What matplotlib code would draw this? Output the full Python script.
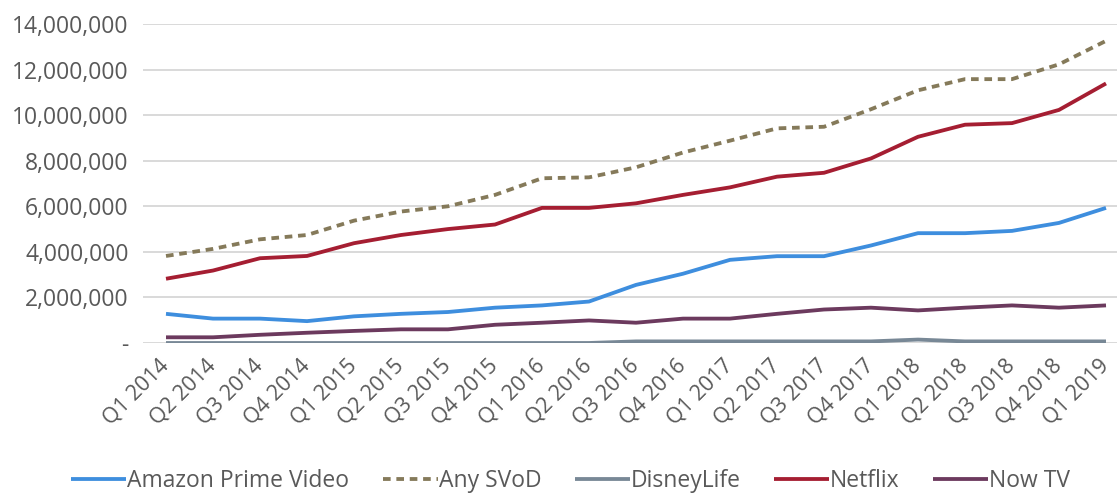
import matplotlib
matplotlib.use('Agg')
import matplotlib.pyplot as plt
from matplotlib.ticker import FuncFormatter

# --- DATA ---
quarters = ['Q1 2014', 'Q2 2014', 'Q3 2014', 'Q4 2014',
            'Q1 2015', 'Q2 2015', 'Q3 2015', 'Q4 2015',
            'Q1 2016', 'Q2 2016', 'Q3 2016', 'Q4 2016',
            'Q1 2017', 'Q2 2017', 'Q3 2017', 'Q4 2017',
            'Q1 2018', 'Q2 2018', 'Q3 2018', 'Q4 2018', 'Q1 2019']

amazon = [1.28, 1.07, 1.07, 0.96, 1.17, 1.28, 1.36, 1.55, 1.65, 1.82, 2.55,
          3.04, 3.65, 3.81, 3.81, 4.28, 4.82, 4.82, 4.92, 5.27, 5.93]
any_svod = [3.82, 4.13, 4.55, 4.74, 5.37, 5.77, 6.00, 6.50, 7.23, 7.27, 7.71,
            8.36, 8.88, 9.42, 9.49, 10.26, 11.09, 11.58, 11.58, 12.23, 13.26]
disneylife = [0.0, 0.0, 0.0, 0.0, 0.0, 0.0, 0.0, 0.0, 0.0, 0.0, 0.07,
              0.07, 0.07, 0.07, 0.07, 0.07, 0.15, 0.07, 0.07, 0.07, 0.07]
netflix = [2.82, 3.18, 3.72, 3.82, 4.38, 4.74, 5.00, 5.20, 5.93, 5.93, 6.13,
           6.50, 6.83, 7.30, 7.47, 8.10, 9.05, 9.58, 9.65, 10.23, 11.39]
now_tv = [0.25, 0.25, 0.36, 0.45, 0.53, 0.60, 0.60, 0.80, 0.89, 0.99, 0.89,
          1.07, 1.07, 1.28, 1.47, 1.55, 1.43, 1.55, 1.65, 1.55, 1.65]

series = [
    ('Amazon Prime Video', amazon, '#3E8EDE', '-'),
    ('Any SVoD', any_svod, '#857A5A', (0, (2.0, 1.5))),
    ('DisneyLife', disneylife, '#788896', '-'),
    ('Netflix', netflix, '#A51E32', '-'),
    ('Now TV', now_tv, '#6C3A5E', '-'),
]

TEXT = '#595959'
plt.rcParams['font.family'] = ['Open Sans', 'DejaVu Sans']

fig = plt.figure(figsize=(11.17, 4.93), dpi=100)
ax = fig.add_axes([142.5 / 1117, 1 - 343 / 493, 987 / 1117, 319 / 493])

x = list(range(len(quarters)))
for name, vals, color, ls in series:
    ax.plot(x, [v * 1e6 for v in vals], color=color, linestyle=ls,
            linewidth=2.75, label=name, solid_capstyle='butt', zorder=3)

ax.set_xlim(-0.5, len(quarters) - 0.5)
ax.set_ylim(0, 14e6)
ax.set_yticks(range(0, 14000001, 2000000))
ax.yaxis.set_major_formatter(FuncFormatter(lambda v, p: '-' if v == 0 else f'{int(v):,}'))
ax.set_xticks(x)
ax.set_xticklabels(quarters, rotation=45, ha='right', va='center',
                   rotation_mode='anchor', fontsize=15.5)

ax.grid(axis='y', color='#CFCFCF', linewidth=1.1, zorder=0)
for s in ax.spines.values():
    s.set_visible(False)
ax.tick_params(axis='both', length=0, colors=TEXT)
ax.tick_params(axis='y', pad=10, labelsize=16.5)
ax.tick_params(axis='x', pad=14)

leg = fig.legend(loc='center', bbox_to_anchor=(0.511, 0.025), ncol=5,
                 frameon=False, fontsize=16.5, handlelength=2.4,
                 handletextpad=0.05, columnspacing=1.45)
for t in leg.get_texts():
    t.set_color(TEXT)

fig.savefig('out.png', dpi=100)
